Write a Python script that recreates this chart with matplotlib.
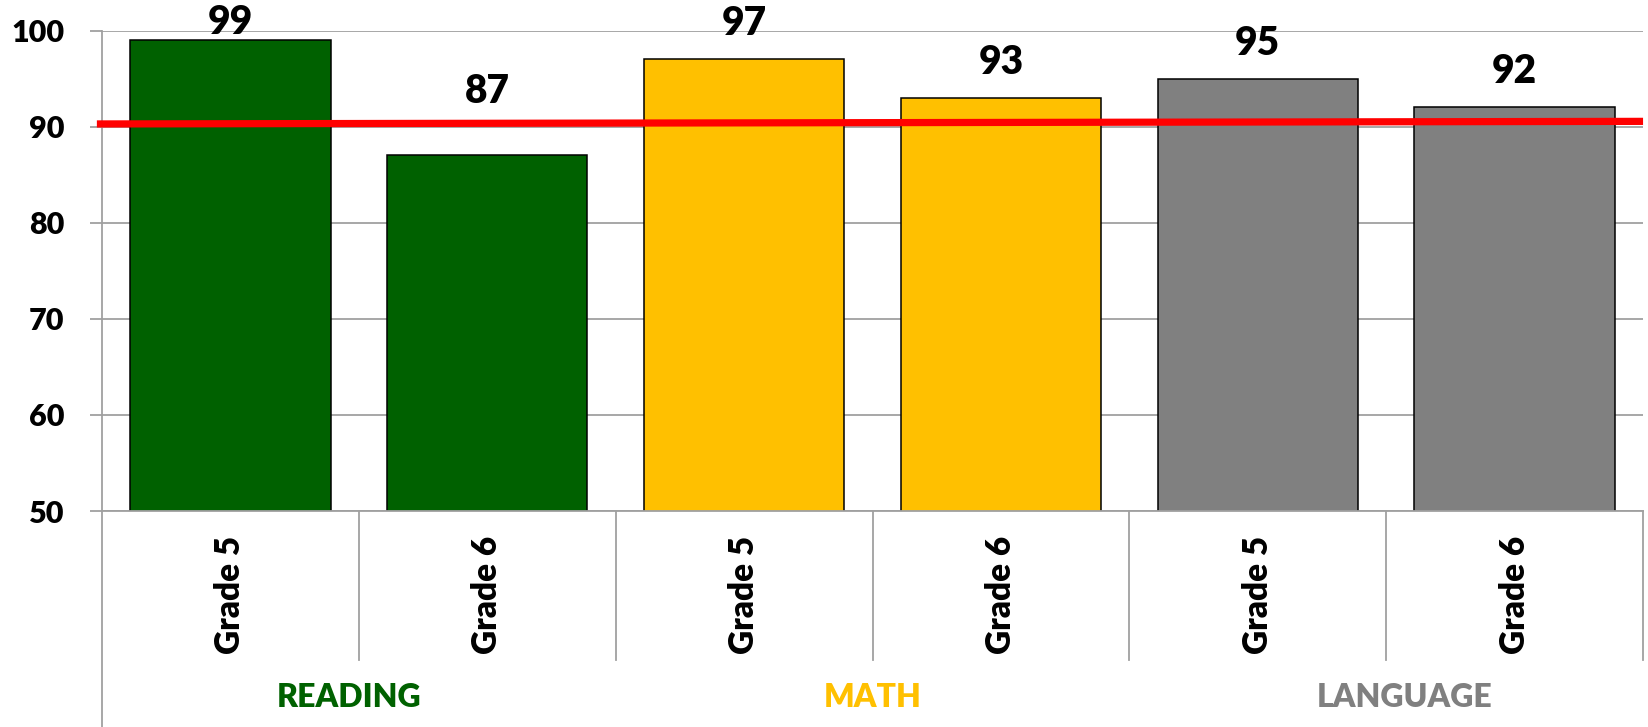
import numpy as np
import matplotlib
matplotlib.use('Agg')
import matplotlib.pyplot as plt
import matplotlib.transforms as mtransforms

plt.rcParams['font.family'] = ['Lato', 'DejaVu Sans']
W = 'heavy'
plt.rcParams['font.weight'] = W

# data
grades = ['Grade 5', 'Grade 6', 'Grade 5', 'Grade 6', 'Grade 5', 'Grade 6']
scores = [99, 87, 97, 93, 95, 92]
subjects = ['READING', 'MATH', 'LANGUAGE']
bar_colors = ['#006100', '#006100', '#FFC000', '#FFC000', '#808080', '#808080']
subject_colors = ['#006100', '#FFC000', '#808080']
target_x = [-0.52, 5.5]
target_y = [90.28, 90.55]

fig = plt.figure(figsize=(16.48, 7.27), dpi=100)
ax = fig.add_axes([0.0619, 0.297, 0.9351, 0.661])

x = np.arange(len(scores))
ax.bar(x, scores, width=0.78, color=bar_colors, edgecolor='black', linewidth=1.1, zorder=2)
ax.plot(target_x, target_y, color='#FF0000', lw=5.2, solid_capstyle='butt', zorder=3, clip_on=False)

# value labels (lifted above the target line, kept under the top)
for xi, v in zip(x, scores):
    ly = v + 3.7
    if v < target_y[0]:
        ly = 93.7
    ly = min(ly, 100.8)
    ax.text(xi, ly, str(v), ha='center', va='center', fontsize=28, fontweight=W, zorder=4)

ax.set_xlim(-0.5, 5.5)
ax.set_ylim(50, 100)
ax.set_yticks([50, 60, 70, 80, 90, 100])
ax.yaxis.grid(True, color='#A0A0A0', lw=1.3)
ax.set_axisbelow(True)
ax.tick_params(axis='y', length=9, width=1.3, color='#A0A0A0', pad=18, labelsize=22)
for lab in ax.get_yticklabels():
    lab.set_fontweight(W)

ax.set_xticks(x)
ax.set_xticklabels(grades, rotation=90, fontsize=24, fontweight=W)
ax.tick_params(axis='x', length=0, pad=18)

for s in ['top', 'right']:
    ax.spines[s].set_visible(False)
for s in ['left', 'bottom']:
    ax.spines[s].set_color('#A0A0A0')
    ax.spines[s].set_linewidth(1.3)

trans = mtransforms.blended_transform_factory(ax.transData, ax.transAxes)
for b in np.arange(-0.5, 6.0, 1.0):
    bottom = -0.45 if b == -0.5 else -0.31
    ax.plot([b, b], [0, bottom], color='#A0A0A0', lw=1.3, transform=trans, clip_on=False)

label_shift = [-0.04, 0.0, 0.07]
for i, (name, c) in enumerate(zip(subjects, subject_colors)):
    ax.text(2 * i + 0.5 + label_shift[i], -0.387, name, color=c, transform=trans, ha='center',
            va='center', fontsize=23, fontweight=W)

fig.savefig('out.png', dpi=100)
